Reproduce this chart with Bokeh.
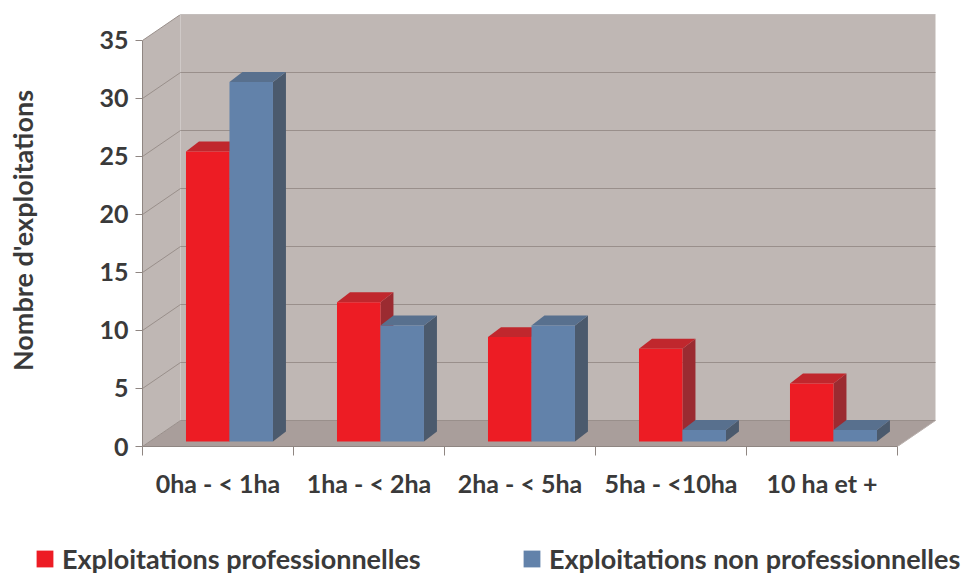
from bokeh.plotting import figure
from bokeh.layouts import column
from bokeh.models import Range1d, FixedTicker, Legend, LegendItem
from bokeh.embed import file_html
from bokeh.resources import INLINE

categories = ["0ha - < 1ha", "1ha - < 2ha", "2ha - < 5ha", "5ha - <10ha", "10 ha et +"]
professionnelles = [25, 12, 9, 8, 5]
non_professionnelles = [31, 10, 10, 1, 1]
y_ticks = [0, 5, 10, 15, 20, 25, 30, 35]
series_names = ["Exploitations professionnelles", "Exploitations non professionnelles"]
y_title = "Nombre d'exploitations"

FONT = "Lato"
TXT = "#3a3a3a"
WALL = "#bfb7b4"
FLOOR = "#a99e9b"
GRID = "#998f8b"
AXIS = "#8f8682"
RED = ("#ed1c24", "#c0272d", "#9b2b31")      # front, top, side
BLUE = ("#6282aa", "#58708e", "#4b5a6d")

n = len(categories)
YMAX = y_ticks[-1]
DXW, DYW = 0.2517, 2.241     # depth of the walls/floor (data units)
BAR_W = 0.288
BAR_SHIFT = 0.076
BAR_DX, BAR_DY = 0.086, 0.86
BAR_Y0 = 0.43

p = figure(width=966, height=520, output_backend="svg", toolbar_location=None,
           x_range=Range1d(0, 5.2583), y_range=Range1d(0, 37.241),
           min_border_left=142, min_border_right=30, min_border_top=14,
           min_border_bottom=74, frame_align=False)
p.outline_line_color = None
p.xgrid.visible = False
p.ygrid.visible = False

# walls and floor
p.patch([DXW, n + DXW, n + DXW, DXW], [DYW, DYW, YMAX + DYW, YMAX + DYW],
        fill_color=WALL, line_color=None)
p.patch([0, DXW, DXW, 0], [0, DYW, YMAX + DYW, YMAX], fill_color=WALL, line_color=None)
p.patch([0, n, n + DXW, DXW], [0, 0, DYW, DYW], fill_color=FLOOR, line_color=None)

gx, gy = [], []
for t in y_ticks:
    gx.append([0, DXW, n + DXW])
    gy.append([t, t + DYW, t + DYW])
p.multi_line(gx, gy, line_color=GRID, line_width=1)
p.line([n, n + DXW], [0, DYW], line_color="#b9b0ad", line_width=1)

# bars
for s, (vals, cols) in enumerate([(professionnelles, RED), (non_professionnelles, BLUE)]):
    left, right, bottom, top = [], [], [], []
    sx, sy, tx, ty = [], [], [], []
    for i, v in enumerate(vals):
        x0 = i + 0.5 + BAR_SHIFT - BAR_W + s * BAR_W
        x1 = x0 + BAR_W
        y0 = BAR_Y0
        y1 = BAR_Y0 + v
        left.append(x0); right.append(x1); bottom.append(y0); top.append(y1)
        sx.append([x1, x1 + BAR_DX, x1 + BAR_DX, x1])
        sy.append([y0, y0 + BAR_DY, y1 + BAR_DY, y1])
        tx.append([x0, x1, x1 + BAR_DX, x0 + BAR_DX])
        ty.append([y1, y1, y1 + BAR_DY, y1 + BAR_DY])
    p.patches(sx, sy, fill_color=cols[2], line_color=None)
    p.patches(tx, ty, fill_color=cols[1], line_color=None)
    p.quad(left=left, right=right, bottom=bottom, top=top,
           fill_color=cols[0], line_color=None)

# y axis
ya = p.yaxis[0]
ya.ticker = FixedTicker(ticks=y_ticks, minor_ticks=[])
ya.bounds = (0, YMAX)
ya.axis_line_color = AXIS
ya.major_tick_line_color = AXIS
ya.major_tick_out = 7
ya.major_tick_in = 0
ya.major_label_standoff = 7
ya.major_label_text_font = FONT
ya.major_label_text_font_style = "bold"
ya.major_label_text_font_size = "25px"
ya.major_label_text_color = TXT
ya.axis_label = y_title
ya.axis_label_text_font = FONT
ya.axis_label_text_font_style = "bold"
ya.axis_label_text_font_size = "27px"
ya.axis_label_text_color = TXT
ya.axis_label_standoff = 57

# x axis
xa = p.xaxis[0]
centers = [i + 0.5 for i in range(n)]
xa.ticker = FixedTicker(ticks=centers, minor_ticks=list(range(n + 1)))
xa.bounds = (0, n)
xa.major_label_overrides = {c: lab for c, lab in zip(centers, categories)}
xa.axis_line_color = AXIS
xa.major_tick_line_color = None
xa.major_tick_out = 0
xa.major_tick_in = 0
xa.minor_tick_line_color = AXIS
xa.minor_tick_out = 9
xa.minor_tick_in = 0
xa.major_label_standoff = 12
xa.major_label_text_font = FONT
xa.major_label_text_font_style = "bold"
xa.major_label_text_font_size = "25px"
xa.major_label_text_color = TXT

# legend strip
leg = figure(width=966, height=57, output_backend="svg", toolbar_location=None,
             x_range=Range1d(0, 1), y_range=Range1d(0, 1),
             x_axis_type=None, y_axis_type=None, min_border=0, frame_align=False)
leg.outline_line_color = None
leg.xgrid.visible = False
leg.ygrid.visible = False
for name, cols, loc in zip(series_names, [RED, BLUE], [(34, 2), (521, 2)]):
    r = leg.quad(left=[0], right=[0], bottom=[0], top=[0],
                 fill_color=cols[0], line_color=None)
    lg = Legend(items=[LegendItem(label=name, renderers=[r])], location=loc,
                glyph_width=21, glyph_height=21, label_standoff=7,
                padding=0, margin=0, border_line_color=None,
                background_fill_alpha=0, label_text_font=FONT,
                label_text_font_style="bold", label_text_font_size="27px",
                label_text_color=TXT)
    leg.add_layout(lg, "center")

layout = column(p, leg, spacing=0)
open("out.html", "w").write(file_html(layout, INLINE))
